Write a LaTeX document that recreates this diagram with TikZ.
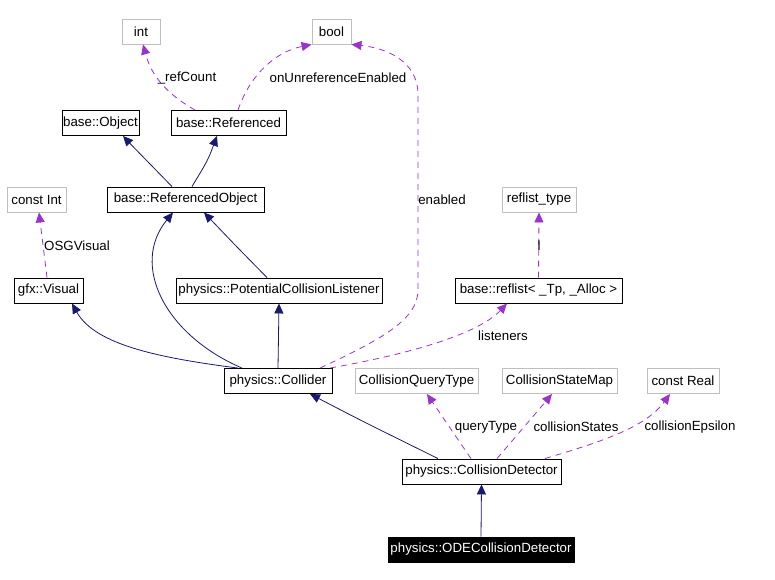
\documentclass[tikz,border=0pt]{standalone}
\usepackage{fontspec}
\setmainfont{Liberation Sans}
\usepackage{xcolor}
\usepackage{tikz}
\usetikzlibrary{arrows.meta}
\definecolor{DoxBlue}{HTML}{191970}
\definecolor{DoxPurple}{HTML}{9A32CD}
\definecolor{DoxGray}{HTML}{BFBFBF}

\begin{document}
\begin{tikzpicture}[x=1pt, y=-1pt, every node/.style={font=\fontsize{13.3}{15}\selectfont}]

    \tikzstyle{cls}=[
      draw=black,
      line width=0.9pt,
      fill=white,
      inner sep=0pt,
      minimum height=25pt
    ]
    \tikzstyle{typ}=[
      draw=DoxGray,
      line width=0.9pt,
      fill=white,
      inner sep=0pt,
      minimum height=25pt
    ]
    \tikzstyle{inherit}=[-{Triangle[length=10pt,width=9pt]}, color=DoxBlue, line width=0.8pt]
    \tikzstyle{member}=[-{Triangle[length=10pt,width=9pt]}, color=DoxPurple, line width=0.8pt, dash pattern=on 6pt off 5pt]
    \tikzstyle{lbl}=[inner sep=0pt]

    \useasboundingbox (0,0) rectangle (775,579);

    % --- Member types ---
    \node[typ, minimum width=38pt] (int) at (141,31.5) {int};
    \node[typ, minimum width=39pt] (bool) at (331.5,31.5) {bool};
    \node[typ, minimum width=59pt] (constint) at (36.5,199.5) {const Int};
    \node[typ, minimum width=74pt] (reflisttype) at (539,199.5) {reflist\_type};
    \node[typ, minimum width=123pt] (querytype) at (416.5,381) {CollisionQueryType};
    \node[typ, minimum width=115pt] (statemap) at (559.5,381) {CollisionStateMap};
    \node[typ, minimum width=72pt] (constreal) at (683,381) {const Real};

    % --- Classes ---
    \node[cls, minimum width=77pt] (object) at (100.5,123) {base::Object};
    \node[cls, minimum width=115pt] (referenced) at (228.5,123) {base::Referenced};
    \node[cls, minimum width=157pt] (refobj) at (185.5,199.5) {base::ReferencedObject};
    \node[cls, minimum width=69pt] (visual) at (48.5,290.5) {gfx::Visual};
    \node[cls, minimum width=206pt] (listener) at (279,290.5) {physics::PotentialCollisionListener};
    \node[cls, minimum width=167pt] (reflist) at (538.5,290.5) {base::reflist< \_Tp, \_Alloc >};
    \node[cls, minimum width=108pt] (collider) at (278,381) {physics::Collider};
    \node[cls, minimum width=159pt] (detector) at (481.5,471.5) {physics::CollisionDetector};
    \node[cls, fill=black, text=white, minimum width=186pt] (ode) at (481,549.5) {physics::ODECollisionDetector};

    % --- Inheritance ---
    \draw[inherit] ([xshift=-13.5pt]refobj.north) .. controls (150,165) .. ([xshift=22.5pt]object.south);
    \draw[inherit] ([xshift=6.5pt]refobj.north) .. controls (208,160) .. ([xshift=-11.5pt]referenced.south);
    \draw[inherit] ([xshift=-12pt]listener.north) .. controls (235,245) .. ([xshift=18.5pt]refobj.south);
    \draw[inherit] ([xshift=-36pt]collider.north) .. controls (165,335) and (130,265) .. ([xshift=-12.5pt]refobj.south);
    \draw[inherit] ([xshift=-40pt]collider.north) .. controls (160,358) and (95,345) .. ([xshift=23.5pt]visual.south);
    \draw[inherit] (collider.north) -- (listener.south);
    \draw[inherit] ([xshift=-43.5pt]detector.north) .. controls (360,420) .. ([xshift=32pt]collider.south);
    \draw[inherit] (ode.north) -- (detector.south);

    % --- Members ---
    \draw[member] ([xshift=-33.5pt]referenced.north) .. controls (160,90) and (150,70) .. ([xshift=2pt]int.south);
    \draw[member] ([xshift=9.5pt]referenced.north) .. controls (250,75) and (275,52) .. (bool.south west);
    \draw[member] ([xshift=42pt]collider.north) .. controls (380,340) and (418,320) .. (418,290)
      -- (418,95) .. controls (418,60) and (385,48) .. (bool.south east);
    \draw[member] ([xshift=52pt]collider.north) .. controls (420,352) and (480,332) .. ([xshift=-31.5pt]reflist.south);
    \draw[member] (reflist.north) -- (reflisttype.south);
    \draw[member] ([xshift=-1.5pt]visual.north) -- ([xshift=2.5pt]constint.south);
    \draw[member] ([xshift=-10.5pt]detector.north) .. controls (448,425) .. ([xshift=10.5pt]querytype.south);
    \draw[member] ([xshift=15.5pt]detector.north) .. controls (530,420) .. ([xshift=-7.5pt]statemap.south);
    \draw[member] ([xshift=63.5pt]detector.north) .. controls (600,442) and (645,428) .. ([xshift=-13pt]constreal.south);

    % --- Member labels ---
    \node[lbl] (lrefcount) at (187,78) {\_refCount};
    \node[lbl] (lunref) at (338,78) {onUnreferenceEnabled};
    \node[lbl] (lenabled) at (442,200) {enabled};
    \node[lbl] (losg) at (77,246) {OSGVisual};
    \node[lbl] (ltype) at (539,246) {l};
    \node[lbl] (llisteners) at (503,336) {listeners};
    \node[lbl] (lquery) at (486,427) {queryType};
    \node[lbl] (lstates) at (576,427) {collisionStates};
    \node[lbl] (lepsilon) at (690,427) {collisionEpsilon};

  \end{tikzpicture}
\end{document}
